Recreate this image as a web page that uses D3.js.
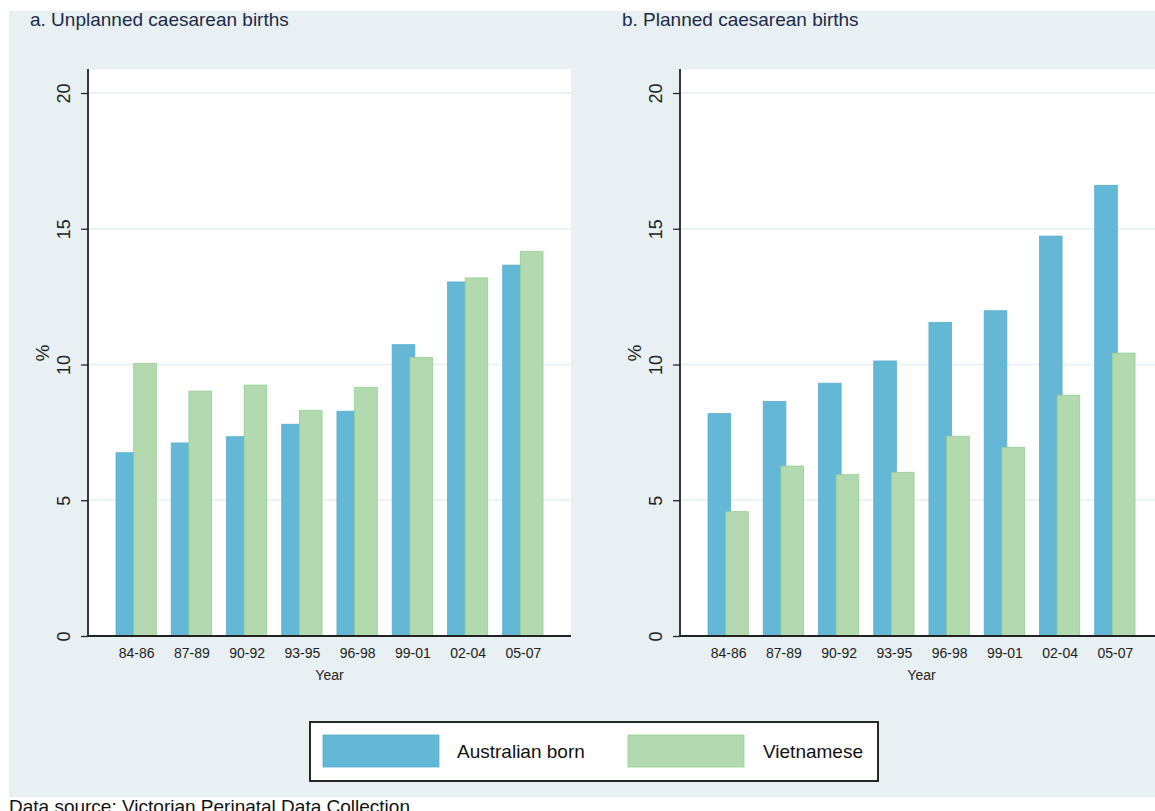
<!DOCTYPE html>
<html>
<head>
<meta charset="utf-8">
<script src="https://cdn.jsdelivr.net/npm/d3@7"></script>
<style>
  html, body { margin: 0; padding: 0; background: #ffffff; }
  svg { display: block; font-family: "Liberation Sans", Arial, Helvetica, sans-serif; }
</style>
</head>
<body>
<svg id="chart" width="1155" height="811"></svg>
<script>
// Three-year periods of birth
const periods = ["84-86", "87-89", "90-92", "93-95", "96-98", "99-01", "02-04", "05-07"];

// Percent of births by caesarean section, by mother's country of birth
const unplannedAustralian = [6.75, 7.11, 7.34, 7.80, 8.28, 10.73, 13.04, 13.66];
const unplannedVietnamese = [10.04, 9.02, 9.24, 8.31, 9.16, 10.26, 13.19, 14.16];
const plannedAustralian   = [8.19, 8.64, 9.31, 10.13, 11.55, 11.98, 14.73, 16.60];
const plannedVietnamese   = [4.58, 6.26, 5.94, 6.03, 7.36, 6.95, 8.87, 10.42];

const yTicks = [0, 5, 10, 15, 20];
const seriesNames = ["Australian born", "Vietnamese"];
const panelTitles = ["a. Unplanned caesarean births", "b. Planned caesarean births"];

const fills   = ["#65b7d6", "#b3d9b0"];
const strokes = ["#5aaed0", "#95cf90"];

const svg = d3.select("#chart");

// page background band
svg.append("rect")
  .attr("x", 9).attr("y", 11).attr("width", 1146).attr("height", 786)
  .attr("fill", "#e8f0f3");

const plotTop = 69, plotBottom = 636, plotWidth = 483;
const y = d3.scaleLinear().domain([0, 20]).range([636, 93]);

function drawPanel(left, title, aus, viet) {
  const g = svg.append("g");
  const x = d3.scalePoint().domain(periods).range([left, left + plotWidth]).padding(0.872);
  const step = x.step();
  const barW = step * 0.41;
  const offset = step * 0.32;

  // plotting region
  g.append("rect")
    .attr("x", left).attr("y", plotTop)
    .attr("width", plotWidth).attr("height", plotBottom - plotTop)
    .attr("fill", "#ffffff");

  // horizontal grid
  g.selectAll(".grid").data(yTicks.filter(t => t > 0)).enter().append("line")
    .attr("x1", left).attr("x2", left + plotWidth)
    .attr("y1", d => y(d)).attr("y2", d => y(d))
    .attr("stroke", "#e6eff2").attr("stroke-width", 1.5);

  // bars: Australian first, Vietnamese drawn on top and slightly overlapping
  [aus, viet].forEach((vals, si) => {
    g.selectAll(".bar" + si).data(vals).enter().append("rect")
      .attr("x", (d, i) => x(periods[i]) - (barW + offset) / 2 + si * offset)
      .attr("y", d => y(d))
      .attr("width", barW)
      .attr("height", d => y(0) - y(d))
      .attr("fill", fills[si])
      .attr("stroke", strokes[si])
      .attr("stroke-width", 0.8);
  });

  // y axis
  const yAxis = d3.axisLeft(y).tickValues(yTicks).tickSize(7).tickFormat(d3.format("d"));
  const ya = g.append("g").attr("transform", `translate(${left},0)`).call(yAxis);
  ya.select(".domain").remove();
  ya.selectAll(".tick line").attr("stroke", "#222").attr("stroke-width", 1.3);
  ya.selectAll(".tick text")
    .attr("x", 0).attr("y", 0).attr("dy", 0)
    .attr("transform", "translate(-18,0) rotate(-90)")
    .attr("text-anchor", "middle")
    .attr("font-size", 18)
    .attr("fill", "#222")
    .attr("font-family", "Liberation Sans, Arial, sans-serif");
  g.append("line")
    .attr("x1", left).attr("x2", left)
    .attr("y1", plotTop).attr("y2", plotBottom)
    .attr("stroke", "#222").attr("stroke-width", 1.8);

  // x axis
  const xAxis = d3.axisBottom(x).tickSize(0).tickPadding(0);
  const xa = g.append("g").attr("transform", `translate(0,${plotBottom})`).call(xAxis);
  xa.select(".domain").remove();
  xa.selectAll(".tick text")
    .attr("y", 22).attr("dy", 0)
    .attr("font-size", 14)
    .attr("fill", "#222")
    .attr("font-family", "Liberation Sans, Arial, sans-serif");
  g.append("line")
    .attr("x1", left).attr("x2", left + plotWidth)
    .attr("y1", plotBottom).attr("y2", plotBottom)
    .attr("stroke", "#222").attr("stroke-width", 1.8);

  // axis titles
  g.append("text")
    .attr("x", left + plotWidth / 2).attr("y", 680)
    .attr("text-anchor", "middle").attr("font-size", 14).attr("fill", "#222")
    .text("Year");
  g.append("text")
    .attr("transform", `translate(${left - 39},353) rotate(-90)`)
    .attr("text-anchor", "middle").attr("font-size", 19).attr("fill", "#222")
    .text("%");

  // panel title
  g.append("text")
    .attr("x", left - 58).attr("y", 26)
    .attr("font-size", 19).attr("fill", "#1c2a48")
    .text(title);
}

drawPanel(88, panelTitles[0], unplannedAustralian, unplannedVietnamese);
drawPanel(680, panelTitles[1], plannedAustralian, plannedVietnamese);

// legend
const leg = svg.append("g");
leg.append("rect")
  .attr("x", 310).attr("y", 722).attr("width", 568).attr("height", 59)
  .attr("fill", "#ffffff").attr("stroke", "#111").attr("stroke-width", 1.8);
const legItems = [
  { sx: 323, tx: 457 },
  { sx: 628, tx: 763 }
];
seriesNames.forEach((name, i) => {
  leg.append("rect")
    .attr("x", legItems[i].sx).attr("y", 735).attr("width", 116).attr("height", 32)
    .attr("fill", fills[i]).attr("stroke", strokes[i]).attr("stroke-width", 0.8);
  leg.append("text")
    .attr("x", legItems[i].tx).attr("y", 758)
    .attr("font-size", 19).attr("fill", "#111")
    .text(name);
});

// source note
svg.append("text")
  .attr("x", 9).attr("y", 813)
  .attr("font-size", 19).attr("fill", "#111")
  .text("Data source: Victorian Perinatal Data Collection");
</script>
</body>
</html>
